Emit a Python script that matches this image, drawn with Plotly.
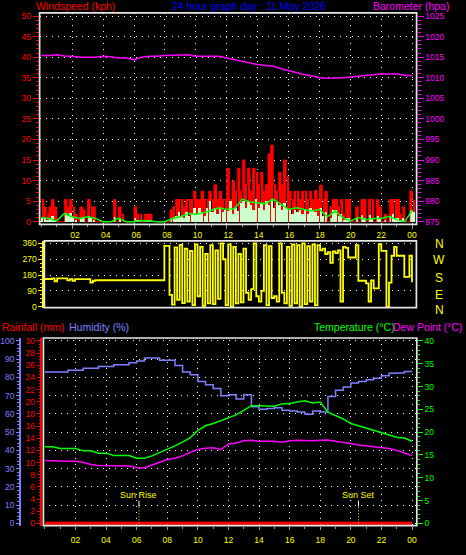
import plotly.graph_objects as go

W, H = 466, 555
FONT = "Liberation Sans"


def px_x(p):
    return p / W


def px_y(p):
    return 1 - p / H


# ---------------- data ----------------
# wind gust (kph), one value every 10 minutes from 00:00 to 24:00
GUST = [
    5.4, 3.6, 1.8, 3.6, 5.4, 3.6,
    0, 0, 0, 5.4, 3.6, 5.4,
    3.6, 1.8, 1.0, 3.6, 2.9, 0,
    5.4, 3.6, 3.6, 0, 0, 0,
    0, 0, 0, 0, 5.4, 0,
    3.6, 1.8, 0, 0, 0, 0,
    3.6, 1.8, 1.8, 0, 1.8, 1.8,
    1.8, 0, 0, 0, 0, 0,
    0, 0, 2.9, 3.6, 5.4, 5.4,
    5.4, 3.6, 5.4, 5.4, 5.4, 7.4,
    5.4, 5.4, 7.4, 5.4, 5.4, 7.4,
    5.4, 9.0, 5.4, 7.4, 5.4, 5.4,
    13.0, 5.4, 9.9, 7.4, 12.9, 7.4,
    15.0, 9.0, 13.0, 7.4, 13.0, 12.0,
    9.0, 12.0, 7.4, 9.0, 16.5, 18.6,
    9.0, 7.4, 12.0, 9.0, 15.0, 11.0,
    7.4, 5.4, 7.4, 7.4, 5.4, 7.4,
    7.4, 5.4, 7.4, 5.4, 7.6, 5.4,
    8.9, 5.4, 7.4, 0, 3.6, 5.4,
    5.4, 3.6, 5.4, 1.8, 5.4, 5.4,
    0, 0, 3.6, 0, 5.4, 5.4,
    0, 5.4, 5.4, 0, 5.4, 3.6,
    0, 1.8, 0, 5.4, 5.4, 5.4,
    5.4, 1.8, 3.6, 0, 0, 7.4,
    5.4,
]

# average wind speed (kph), every 10 minutes
AVG = [
    1.0, 1.0, 0.5, 1.0, 1.5, 0.5,
    0, 0, 0, 2.2, 1.5, 2.2,
    1.0, 0.5, 0, 1.0, 1.2, 0,
    1.5, 1.0, 0.5, 0, 0, 0,
    0, 0, 0, 0, 1.2, 0,
    1.0, 0, 0, 0, 0, 0,
    1.0, 0.5, 0.5, 0, 0.5, 0.5,
    0.5, 0, 0, 0, 0, 0,
    0, 0, 1.0, 1.2, 1.4, 2.5,
    1.4, 1.0, 2.5, 1.4, 2.0, 3.4,
    2.0, 3.4, 2.5, 1.5, 3.4, 5.0,
    2.5, 3.4, 2.0, 3.4, 2.5, 3.0,
    2.6, 5.0, 2.0, 3.4, 2.6, 4.5,
    5.0, 3.4, 5.0, 4.0, 3.0, 5.5,
    3.4, 4.5, 3.0, 5.0, 4.0, 5.5,
    3.4, 5.0, 4.0, 3.0, 4.5, 3.4,
    3.0, 2.0, 3.0, 2.5, 3.0, 2.0,
    3.0, 2.0, 3.4, 3.0, 2.5, 1.4,
    3.4, 1.4, 2.5, 0, 1.0, 3.0,
    3.0, 1.5, 2.0, 0.5, 1.0, 1.0,
    0, 0, 1.0, 0, 1.6, 1.0,
    0, 1.6, 1.0, 0, 1.4, 1.0,
    0, 0.5, 0, 1.5, 2.0, 1.0,
    1.0, 0.5, 1.0, 0, 0, 3.0,
    2.5,
]

# wind direction (degrees), every 10 minutes
DIR = [
    158, 158, 158, 161, 145, 161,
    161, 161, 161, 150, 157, 148,
    157, 157, 157, 157, 157, 157,
    138, 148, 151, 151, 151, 151,
    151, 151, 151, 151, 151, 151,
    151, 151, 151, 151, 151, 151,
    151, 151, 151, 151, 151, 151,
    151, 151, 151, 151, 151, 346,
    346, 68, 12, 338, 40, 352,
    21, 330, 30, 318, 10, 355,
    60, 340, 5, 300, 20, 350,
    15, 320, 45, 360, 270, 10,
    355, 0, 340, 20, 300, 25,
    330, 80, 40, 100, 360, 60,
    30, 90, 350, 10, 345, 50,
    60, 30, 360, 80, 20, 340,
    5, 355, 20, 350, 0, 360,
    15, 345, 30, 355, 10, 350,
    320, 330, 300, 310, 250, 315,
    305, 320, 30, 340, 335, 280,
    280, 280, 350, 148, 148, 148,
    133, 30, 150, 105, 105, 356,
    318, 318, 0, 137, 290, 340,
    290, 290, 290, 170, 170, 290,
    140,
]

# half-hourly series (00:00 .. 24:00)
AVG_LINE = [1.0, 0.8, 0.2, 2.0, 1.2, 0.8, 1.2, 0.8, 0.0, 0.0, 0.8, 0.0, 0.0,
            0.3, 0.2, 0.0, 0.0, 0.8, 1.2, 2.0, 1.8, 2.2, 2.8, 3.4, 3.0, 3.2,
            5.5, 4.8, 4.6, 4.4, 5.5, 4.3, 3.0, 3.4, 3.0, 2.6, 3.0, 1.2, 2.6,
            1.0, 0.2, 1.0, 0.5, 0.8, 0.8, 1.3, 0.5, 0.0, 2.8]
BARO = [1015.4, 1015.4, 1015.6, 1015.3, 1015.2, 1015.0, 1015.0, 1015.0, 1015.2,
        1015.1, 1014.8, 1014.8, 1014.4, 1015.0, 1015.2, 1015.2, 1015.4, 1015.5,
        1015.6, 1015.6, 1015.2, 1015.2, 1015.2, 1015.2, 1014.8, 1014.4, 1014.0,
        1013.6, 1013.2, 1013.0, 1012.8, 1012.2, 1011.7, 1011.2, 1010.8, 1010.5,
        1010.0, 1009.9, 1009.9, 1010.0, 1010.2, 1010.4, 1010.5, 1010.8, 1010.9,
        1010.9, 1010.9, 1010.6, 1010.5]
HUM = [83, 83, 83, 84, 84, 85, 85, 86, 86, 87, 87, 88, 89, 90.6, 90.6, 89.5,
       89.5, 86.5, 83, 81.5, 77.8, 76, 74, 70, 70.5, 68.2, 70.5, 64, 62.5, 63,
       63.4, 62, 61.6, 61, 59.8, 61.6, 61, 69.6, 73, 74.7, 76.9, 77.8, 78.7,
       79.6, 81, 82.3, 82.5, 83.2, 83.2]
TEMP = [16.8, 16.8, 16.4, 16.4, 16.4, 15.9, 15.9, 15.4, 15.4, 14.9, 14.9, 14.9,
        14.3, 14.3, 14.8, 15.5, 16.2, 17.0, 17.8, 18.8, 20.4, 21.4, 21.9, 22.5,
        23.2, 23.8, 24.8, 25.8, 25.8, 25.7, 25.7, 26.2, 26.3, 26.6, 26.9, 26.4,
        26.6, 24.4, 23.6, 22.9, 21.9, 21.4, 21.0, 20.5, 20.0, 19.4, 18.9, 18.7,
        18.0]
DEW = [13.8, 13.8, 13.7, 13.6, 13.6, 13.4, 12.9, 12.7, 12.7, 12.7, 12.6, 12.6,
       12.2, 12.2, 12.8, 13.4, 14.0, 14.3, 14.8, 15.6, 16.2, 16.5, 16.6, 16.2,
       17.4, 17.6, 18.1, 18.2, 18.0, 18.0, 18.0, 17.8, 18.1, 18.2, 18.1, 18.1,
       18.2, 18.3, 18.0, 17.8, 17.5, 17.2, 17.0, 16.8, 16.6, 16.4, 16.0, 15.5,
       14.9]
# hourly rainfall (mm)
RAIN = [0, 0, 0, 0, 0, 0, 0, 0, 0, 0, 0, 0, 0, 0, 0, 0, 0, 0, 0, 0, 0, 0, 0, 0, 0]

HOUR_TICKS = [2, 4, 6, 8, 10, 12, 14, 16, 18, 20, 22, 24]
HOUR_LABELS = ["02", "04", "06", "08", "10", "12", "14", "16", "18", "20", "22", "00"]
WIND_TICKS = [0, 5, 10, 15, 20, 25, 30, 35, 40, 45, 50]
BARO_TICKS = [975, 980, 985, 990, 995, 1000, 1005, 1010, 1015, 1020, 1025]
DIR_TICKS = [0, 90, 180, 270, 360]
COMPASS = ["N", "W", "S", "E", "N"]
RAIN_TICKS = [0, 2, 4, 6, 8, 10, 12, 14, 16, 18, 20, 22, 24, 26, 28, 30]
HUM_TICKS = [0, 10, 20, 30, 40, 50, 60, 70, 80, 90, 100]
TEMP_TICKS = [0, 5, 10, 15, 20, 25, 30, 35, 40]
SUNRISE = 6.15
SUNSET = 20.5
TITLE = "24 hour graph day : 11 May 2026"

T10 = [i / 6 for i in range(len(GUST))]
T30 = [i / 2 for i in range(len(BARO))]
T60 = list(range(len(RAIN)))

RED = "#ff0000"
MAG = "#ff00ff"
YEL = "#ffff00"
GRN = "#00ff00"
HUMC = "#8080ff"
FRAME = "#e6e6e6"
TICKGRAY = "#9a9a9a"

fig = go.Figure()

# ---------- top panel: wind + barometer ----------
fig.add_trace(go.Bar(x=T10, y=GUST, width=0.145, offset=0,
                     marker=dict(color=RED, line=dict(width=0)),
                     xaxis="x", yaxis="y"))
fig.add_trace(go.Scatter(x=T10, y=GUST, mode="lines",
                         line=dict(color=RED, width=1, shape="hv"),
                         xaxis="x", yaxis="y"))
fig.add_trace(go.Bar(x=T10, y=AVG, width=0.12, offset=0,
                     marker=dict(color="#ccffcc", line=dict(width=0)),
                     xaxis="x", yaxis="y"))
fig.add_trace(go.Scatter(x=T30, y=AVG_LINE, mode="lines",
                         line=dict(color=GRN, width=1.5),
                         xaxis="x", yaxis="y"))
fig.add_trace(go.Scatter(x=T30, y=BARO, mode="lines",
                         line=dict(color=MAG, width=1.5),
                         xaxis="x", yaxis="y2"))

# ---------- middle panel: wind direction ----------
fig.add_trace(go.Scatter(x=T10, y=DIR, mode="lines",
                         line=dict(color=YEL, width=1.8, shape="hv"),
                         xaxis="x2", yaxis="y3"))

# ---------- bottom panel ----------
fig.add_trace(go.Scatter(x=T60, y=RAIN, mode="lines",
                         line=dict(color=RED, width=3),
                         xaxis="x3", yaxis="y4"))
fig.add_trace(go.Scatter(x=T30, y=HUM, mode="lines",
                         line=dict(color=HUMC, width=1.5, shape="hv"),
                         xaxis="x3", yaxis="y5"))
fig.add_trace(go.Scatter(x=T30, y=TEMP, mode="lines",
                         line=dict(color=GRN, width=1.5),
                         xaxis="x3", yaxis="y6"))
fig.add_trace(go.Scatter(x=T30, y=DEW, mode="lines",
                         line=dict(color=MAG, width=1.5),
                         xaxis="x3", yaxis="y6"))

grid = dict(showgrid=True, gridcolor="#ffffff", griddash="1px,5px", gridwidth=1)
nogrid = dict(showgrid=False)
tf = lambda c: dict(color=c, size=8.5, family=FONT)

layout = dict(
    width=W, height=H, autosize=False,
    margin=dict(l=0, r=0, t=0, b=0),
    paper_bgcolor="#000000", plot_bgcolor="#000000",
    showlegend=False, hovermode=False, barmode="overlay", bargap=0,
    font=dict(family=FONT, color="#ffffff"),
    # top panel
    xaxis=dict(domain=[px_x(39.7), px_x(417.5)], range=[-0.103, 24.27], anchor="y",
               tickmode="array", tickvals=HOUR_TICKS, showticklabels=False,
               ticks="outside", ticklen=4, tickcolor=TICKGRAY,
               minor=dict(dtick=1, tick0=0, ticks="outside", ticklen=2, tickcolor=TICKGRAY),
               zeroline=False, showline=False, **grid),
    yaxis=dict(domain=[px_y(224.3), px_y(10)], range=[-0.67, 50.77], anchor="x",
               tickmode="array", tickvals=WIND_TICKS, ticks="outside", ticklen=6,
               tickcolor=RED, tickfont=tf(RED),
               minor=dict(dtick=1, tick0=0, ticks="outside", ticklen=3, tickcolor=RED),
               zeroline=False, showline=False, **grid),
    yaxis2=dict(overlaying="y", side="right", anchor="x", range=[974.33, 1025.77],
                tickmode="array", tickvals=BARO_TICKS, ticks="outside", ticklen=6,
                tickcolor=MAG, tickfont=tf(MAG),
                minor=dict(dtick=1, tick0=0, ticks="outside", ticklen=3, tickcolor=MAG),
                zeroline=False, showline=False, **nogrid),
    # middle panel
    xaxis2=dict(domain=[px_x(44.5), px_x(417.3)], range=[0, 24.29], anchor="y3",
                side="top", tickmode="array", tickvals=HOUR_TICKS, ticktext=HOUR_LABELS,
                tickfont=tf(YEL), ticks="", zeroline=False, showline=False, **nogrid),
    yaxis3=dict(domain=[px_y(308.5), px_y(241)], range=[-4.5, 374], anchor="free",
                position=px_x(43.2), side="left", tickmode="array", tickvals=DIR_TICKS,
                ticks="outside", ticklen=4, tickcolor=YEL, tickfont=tf(YEL),
                minor=dict(dtick=22.5, tick0=0, ticks="outside", ticklen=2, tickcolor=YEL),
                showline=True, linecolor=YEL, linewidth=1.5, zeroline=False, **grid),
    # bottom panel
    xaxis3=dict(domain=[px_x(43.5), px_x(417.7)], range=[-0.098, 24.31], anchor="y4",
                side="bottom", tickmode="array", tickvals=HOUR_TICKS, ticktext=HOUR_LABELS,
                tickfont=tf(YEL), ticks="outside", ticklen=3, tickcolor=TICKGRAY,
                ticklabelstandoff=3,
                minor=dict(dtick=1, tick0=0, ticks="outside", ticklen=2, tickcolor=TICKGRAY),
                zeroline=False, showline=False, **grid),
    yaxis4=dict(domain=[px_y(529.3), px_y(339.3)], range=[-0.374, 30.487], anchor="free",
                position=px_x(41.5), side="left", tickmode="array", tickvals=RAIN_TICKS,
                ticks="outside", ticklen=4, tickcolor=RED, tickfont=tf(RED),
                minor=dict(dtick=0.5, tick0=0, ticks="outside", ticklen=2, tickcolor=RED),
                showline=True, linecolor=RED, linewidth=1.5, zeroline=False, **nogrid),
    yaxis5=dict(overlaying="y4", anchor="free", position=px_x(20.3), side="left",
                range=[-1.245, 101.624], tickmode="array", tickvals=HUM_TICKS,
                ticks="outside", ticklen=3, tickcolor=HUMC, tickfont=tf(HUMC),
                minor=dict(dtick=2, tick0=0, ticks="outside", ticklen=2, tickcolor=HUMC),
                showline=True, linecolor=HUMC, linewidth=2, zeroline=False, **grid),
    yaxis6=dict(overlaying="y4", anchor="x3", side="right", range=[-0.498, 40.65],
                tickmode="array", tickvals=TEMP_TICKS, ticks="outside", ticklen=5,
                tickcolor=GRN, tickfont=tf(GRN),
                minor=dict(dtick=1, tick0=0, ticks="outside", ticklen=2, tickcolor=GRN),
                zeroline=False, showline=False, **nogrid),
)
fig.update_layout(**layout)

# frames
for (x0, y0, x1, y1) in [(39.7, 10, 417.5, 224.3), (44.5, 241, 417.3, 308.5),
                         (43.5, 339.3, 417.7, 529.3)]:
    fig.add_shape(type="rect", xref="paper", yref="paper",
                  x0=px_x(x0), x1=px_x(x1), y0=px_y(y1), y1=px_y(y0),
                  line=dict(color=FRAME, width=1.7), fillcolor="rgba(0,0,0,0)",
                  layer="above")

# sun rise / sun set markers
for hx in (SUNRISE, SUNSET):
    fig.add_shape(type="line", xref="x3", yref="paper", x0=hx, x1=hx,
                  y0=px_y(510), y1=px_y(504), line=dict(color="#ffffff", width=1))
    fig.add_shape(type="line", xref="x3", yref="paper", x0=hx, x1=hx,
                  y0=px_y(527), y1=px_y(510), line=dict(color=YEL, width=1, dash="1px,2px"))


def label(text, x, y, color, size=10.5, xanchor="left", xref="paper", yref="paper"):
    fig.add_annotation(text=text, x=x, y=y, xref=xref, yref=yref,
                       xanchor=xanchor, yanchor="middle", showarrow=False,
                       font=dict(color=color, size=size, family=FONT))


label("Windspeed (kph)", px_x(34), px_y(3), RED)
label(TITLE, px_x(250), px_y(3), "#0000ff", xanchor="center")
label("Barometer (hpa)", px_x(372), px_y(3), MAG)
label("Rainfall (mm)", px_x(0), px_y(328), RED)
label("Humidity (%)", px_x(67), px_y(328), HUMC)
label("Temperature (°C)", px_x(313), px_y(328), GRN)
label("Dew Point (°C)", px_x(392), px_y(328), MAG)
label("Sun Rise", SUNRISE, px_y(498), YEL, size=9, xanchor="center", xref="x3")
label("Sun Set", SUNSET, px_y(498), YEL, size=9, xanchor="center", xref="x3")
for txt, py in zip(COMPASS, [244, 260.5, 279, 296, 310.5]):
    label(txt, px_x(440), px_y(py), YEL, size=12, xanchor="center")

fig.write_html("out.html", config={"displayModeBar": False},
               post_script="document.body.style.margin='0px';")
